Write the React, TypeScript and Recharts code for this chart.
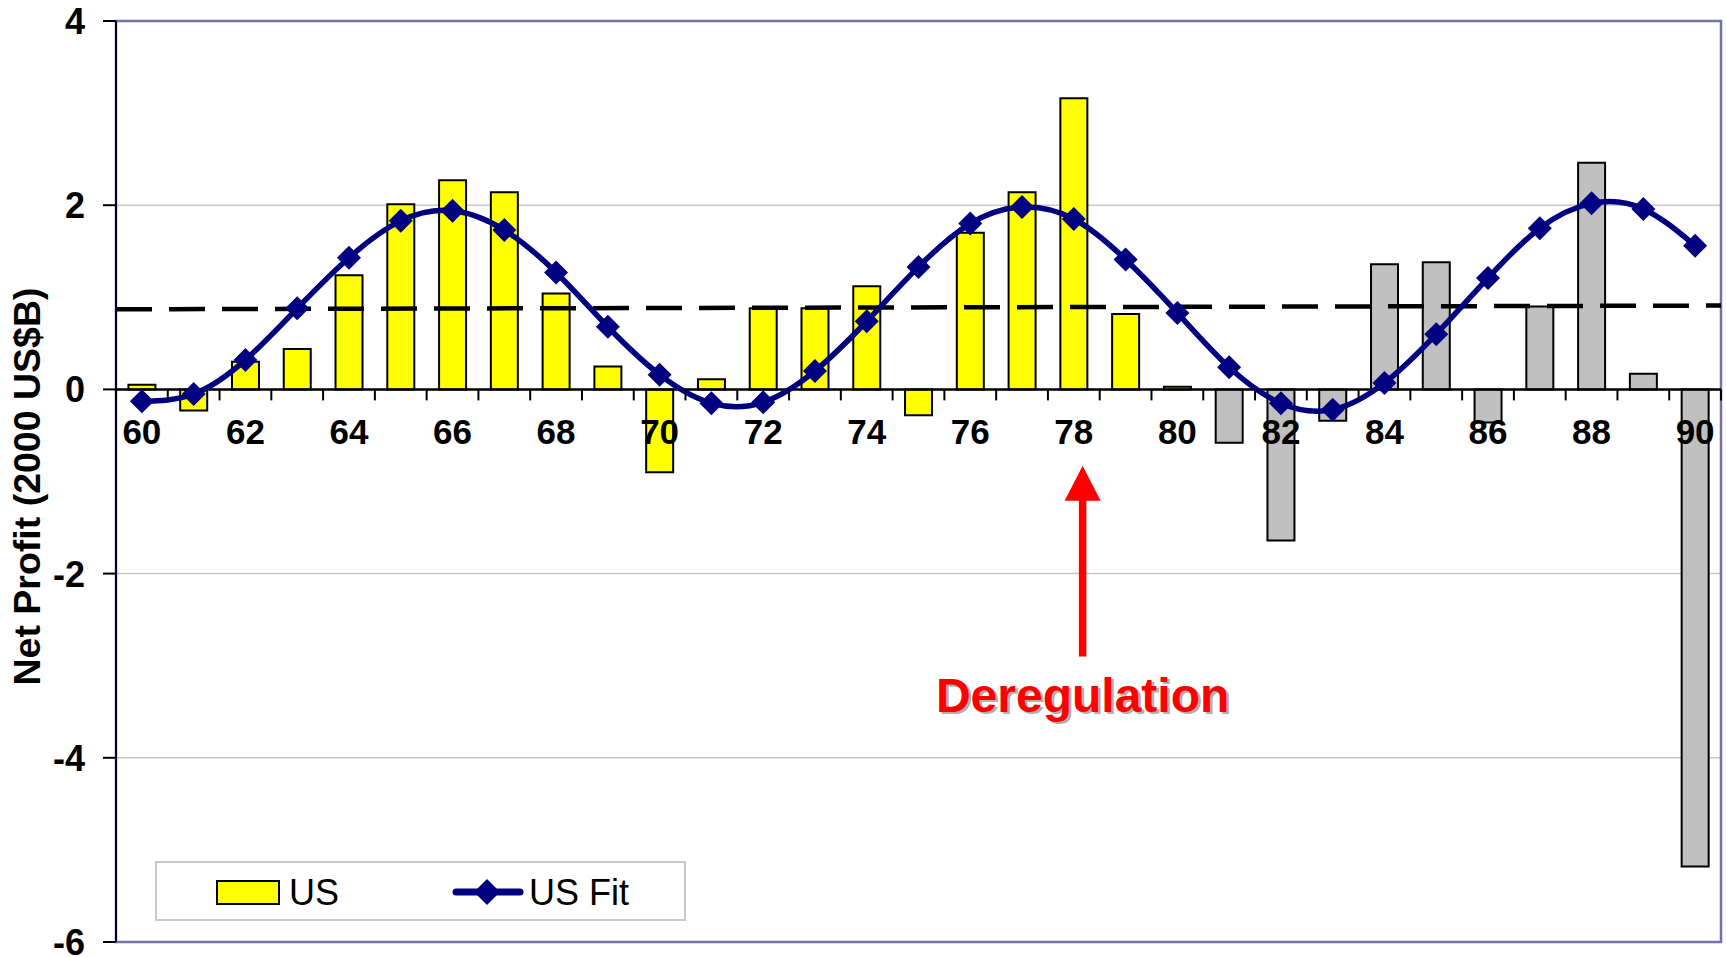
import {
  ComposedChart,
  Bar,
  Line,
  Cell,
  XAxis,
  YAxis,
  CartesianGrid,
  ReferenceLine,
  ReferenceArea,
  ReferenceDot,
  Legend,
} from "recharts";

const years = [
  "60", "61", "62", "63", "64", "65", "66", "67", "68", "69",
  "70", "71", "72", "73", "74", "75", "76", "77", "78", "79",
  "80", "81", "82", "83", "84", "85", "86", "87", "88", "89", "90",
];

const usProfit = [
  0.05, -0.23, 0.3, 0.44, 1.24, 2.01, 2.27, 2.14, 1.04, 0.25,
  -0.9, 0.11, 0.88, 0.88, 1.12, -0.28, 1.7, 2.14, 3.16, 0.82,
  0.03, -0.58, -1.64, -0.34, 1.36, 1.38, -0.36, 0.9, 2.46, 0.17, -5.18,
];

const usFit = [
  -0.13, -0.05, 0.32, 0.88, 1.43, 1.83, 1.94, 1.73, 1.27, 0.68,
  0.16, -0.15, -0.14, 0.2, 0.74, 1.33, 1.8, 1.98, 1.85, 1.41,
  0.83, 0.24, -0.15, -0.22, 0.07, 0.6, 1.21, 1.75, 2.02, 1.96, 1.56,
];

// dashed average line, value at left and right edge of the plot
const trendEnds = [0.87, 0.91];
const yTicks = [-6, -4, -2, 0, 2, 4];

// deregulation arrow (year, from y, to y) and label y
const dereg = { year: 78.17, from: -2.9, to: -0.83, textY: -3.5 };
const lastRegulatedYear = 80;

const W = 1726;
const H = 957;
const M = { top: 21, right: 5, bottom: 13, left: 46 };
const X_AXIS_H = 2;
const Y_AXIS_W = 70;
const PLOT_W = W - M.left - M.right - Y_AXIS_W;
const PLOT_H = H - M.top - M.bottom - X_AXIS_H;
const BAND = PLOT_W / years.length;
const ZERO_Y = M.top + (PLOT_H * 4) / 10;

const FONT = "'Liberation Sans', Arial, Helvetica, sans-serif";

const data = years.map((y, i) => ({
  year: y,
  yr: Number(y),
  us: usProfit[i],
  fit: usFit[i],
}));

function XTick(props: any) {
  const { x, payload, index } = props;
  const half = BAND / 2;
  const last = index === years.length - 1;
  const even = Number(payload.value) % 2 === 0;
  return (
    <g>
      <line x1={x - half} x2={x - half} y1={ZERO_Y} y2={ZERO_Y + 11} stroke="#000" strokeWidth={2} />
      {last && (
        <line x1={x + half} x2={x + half} y1={ZERO_Y} y2={ZERO_Y + 11} stroke="#000" strokeWidth={2} />
      )}
      {even && (
        <text
          x={x}
          y={ZERO_Y + 55}
          textAnchor="middle"
          fontFamily={FONT}
          fontWeight="bold"
          fontSize={35}
          fill="#000"
        >
          {payload.value}
        </text>
      )}
    </g>
  );
}

function YTick(props: any) {
  const { x, y, payload } = props;
  return (
    <text
      x={x}
      y={y}
      dy="0.36em"
      textAnchor="end"
      fontFamily={FONT}
      fontWeight="bold"
      fontSize={36}
      fill="#000"
    >
      {payload.value}
    </text>
  );
}

function Diamond(props: any) {
  const { cx, cy, index } = props;
  const r = 12;
  return (
    <path
      key={"d" + index}
      d={`M${cx},${cy - r}L${cx + r},${cy}L${cx},${cy + r}L${cx - r},${cy}Z`}
      fill="#000080"
    />
  );
}

function Arrow(props: any) {
  const { x1, y1, x2, y2 } = props;
  const tipY = Math.min(y1, y2);
  const baseY = Math.max(y1, y2);
  const x = (x1 + x2) / 2;
  return (
    <g>
      <line x1={x} x2={x} y1={baseY} y2={tipY + 30} stroke="#ff0000" strokeWidth={7.5} />
      <path d={`M${x},${tipY}L${x + 18},${tipY + 35}L${x - 18},${tipY + 35}Z`} fill="#ff0000" />
    </g>
  );
}

function DeregText(props: any) {
  const { cx, cy } = props;
  return (
    <g>
      <text x={cx + 2.5} y={cy + 2.5} textAnchor="middle" fontFamily={FONT} fontWeight="bold" fontSize={48} fill="#b0b0b0">
        Deregulation
      </text>
      <text x={cx} y={cy} textAnchor="middle" fontFamily={FONT} fontWeight="bold" fontSize={48} fill="#ff0000">
        Deregulation
      </text>
    </g>
  );
}

function YTitle(props: any) {
  const vb = props.viewBox;
  const x = vb.x - 6;
  const y = vb.y + vb.height / 2 + 5;
  return (
    <text
      x={x}
      y={y}
      transform={`rotate(-90, ${x}, ${y})`}
      textAnchor="middle"
      fontFamily={FONT}
      fontWeight="bold"
      fontSize={37.5}
      fill="#000"
    >
      Net Profit (2000 US$B)
    </text>
  );
}

function LegendBox(props: any) {
  const items = props.payload || [];
  const bar = items.find((p: any) => p.dataKey === "us");
  const line = items.find((p: any) => p.dataKey === "fit");
  return (
    <svg width={531} height={60} style={{ display: "block" }}>
      <rect x={1} y={1} width={529} height={58} fill="#fff" stroke="#c8c8c8" strokeWidth={2} />
      <rect x={62} y={20} width={62} height={23} fill="#ffff00" stroke="#000" strokeWidth={2} />
      <text x={134} y={44} fontFamily={FONT} fontSize={36} fill="#000">
        {bar ? bar.value : "US"}
      </text>
      <line x1={301} x2={365} y1={31} y2={31} stroke="#000080" strokeWidth={7} strokeLinecap="round" />
      <path d="M332,18L345,31L332,44L319,31Z" fill="#000080" />
      <text x={374} y={44} fontFamily={FONT} fontSize={36} fill="#000">
        {line ? line.value : "US Fit"}
      </text>
    </svg>
  );
}

export default function App() {
  return (
    <div style={{ position: "absolute", left: 0, top: 0, width: W, height: H, background: "#fff" }}>
      <ComposedChart width={W} height={H} data={data} margin={M} barCategoryGap="24%">
        <CartesianGrid horizontal vertical={false} stroke="#c8c8c8" strokeWidth={1.5} />
        <XAxis
          dataKey="year"
          interval={0}
          height={X_AXIS_H}
          axisLine={false}
          tickLine={false}
          tick={(p: any) => <XTick {...p} />}
        />
        <XAxis xAxisId="num" dataKey="yr" type="number" domain={[59.5, 90.5]} allowDataOverflow hide />
        <YAxis
          width={Y_AXIS_W}
          domain={[-6, 4]}
          ticks={yTicks}
          interval={0}
          allowDataOverflow
          axisLine={{ stroke: "#000033", strokeWidth: 2 }}
          tickLine={{ stroke: "#000", strokeWidth: 2 }}
          tickSize={13}
          tickMargin={18}
          tick={(p: any) => <YTick {...p} />}
          label={<YTitle />}
        />
        <ReferenceArea
          xAxisId="num"
          x1={59.5}
          x2={90.5}
          y1={-6}
          y2={4}
          fill="none"
          stroke="#7072a8"
          strokeWidth={2.5}
        />
        <Bar dataKey="us" name="US" fill="#ffff00" stroke="#000" strokeWidth={2} isAnimationActive={false}>
          {data.map((d, i) => (
            <Cell key={i} fill={d.yr > lastRegulatedYear ? "#c0c0c0" : "#ffff00"} />
          ))}
        </Bar>
        <ReferenceLine y={0} stroke="#000" strokeWidth={2.5} />
        <ReferenceLine
          xAxisId="num"
          segment={[
            { x: 59.5, y: trendEnds[0] },
            { x: 90.5, y: trendEnds[1] },
          ]}
          stroke="#000"
          strokeWidth={4.5}
          strokeDasharray="36 17"
        />
        <Line
          dataKey="fit"
          name="US Fit"
          type="natural"
          stroke="#000080"
          strokeWidth={5.5}
          dot={Diamond}
          activeDot={false}
          isAnimationActive={false}
        />
        <ReferenceLine
          xAxisId="num"
          segment={[
            { x: dereg.year, y: dereg.from },
            { x: dereg.year, y: dereg.to },
          ]}
          shape={Arrow}
        />
        <ReferenceDot xAxisId="num" x={dereg.year} y={dereg.textY} r={1} shape={DeregText} />
        <Legend
          layout="horizontal"
          verticalAlign="middle"
          align="center"
          wrapperStyle={{ left: 155, top: 861, width: 531, height: 60 }}
          content={LegendBox}
        />
      </ComposedChart>
    </div>
  );
}
